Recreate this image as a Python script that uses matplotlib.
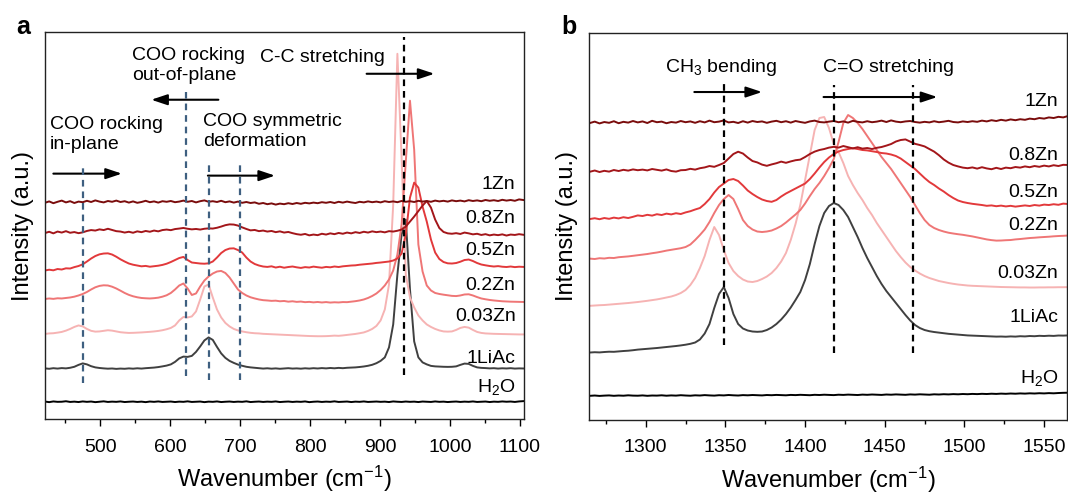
import matplotlib
matplotlib.use('Agg')
import matplotlib.pyplot as plt
from matplotlib.ticker import MultipleLocator

# arial-like text, mathtext in the same face for sub/superscripts
plt.rcParams['font.family'] = ['Liberation Sans', 'DejaVu Sans']
plt.rcParams['mathtext.fontset'] = 'custom'
plt.rcParams['mathtext.rm'] = 'Liberation Sans'
plt.rcParams['mathtext.it'] = 'Liberation Sans:italic'
plt.rcParams['mathtext.bf'] = 'Liberation Sans:bold'
plt.rcParams['mathtext.default'] = 'regular'

# ---------------- data, panel a (400-1100 cm-1) ----------------
sample_names = ['1Zn', '0.8Zn', '0.5Zn', '0.2Zn', '0.03Zn', '1LiAc', 'H$_2$O']

a_wn = [421, 427, 433, 439, 445, 451, 457, 463, 469, 475,
        481, 487, 493, 499, 505, 511, 517, 523, 529, 535,
        541, 547, 553, 559, 565, 571, 577, 583, 589, 595,
        601, 607, 613, 619, 625, 631, 637, 643, 649, 655,
        661, 667, 673, 679, 685, 691, 697, 703, 709, 715,
        721, 727, 733, 739, 745, 751, 757, 763, 769, 775,
        781, 787, 793, 799, 805, 811, 817, 823, 829, 835,
        841, 847, 853, 859, 865, 871, 877, 883, 889, 895,
        901, 907, 913, 919, 925, 931, 937, 943, 949, 955,
        961, 967, 973, 979, 985, 991, 997, 1003, 1009, 1015,
        1021, 1027, 1033, 1039, 1045, 1051, 1057, 1063, 1069, 1075,
        1081, 1087, 1093, 1099, 1105]

# stacked intensities (a.u., offsets included)
a_1zn = [216.8, 218.2, 216.4, 217.8, 219.0, 217.2, 218.4, 216.6, 218.0, 217.4,
         218.8, 217.6, 219.2, 218.0, 217.2, 218.6, 217.8, 219.0, 217.6, 218.4,
         217.0, 218.2, 216.8, 217.6, 218.8, 217.4, 218.2, 217.0, 218.4, 217.8,
         218.6, 217.4, 218.0, 219.0, 217.8, 218.6, 217.2, 218.4, 219.2, 217.8,
         218.4, 217.6, 218.8, 217.4, 218.2, 217.0, 218.0, 216.8, 217.6, 216.6,
         217.2, 215.8, 216.6, 215.4, 216.2, 215.0, 216.0, 215.4, 216.4, 215.6,
         216.6, 215.8, 216.8, 216.2, 217.0, 216.4, 217.4, 216.8, 217.6, 216.6,
         217.8, 217.0, 218.0, 217.2, 216.6, 217.8, 217.2, 218.2, 217.4, 218.0,
         217.2, 218.4, 217.6, 218.2, 217.4, 218.6, 217.8, 218.4, 217.6, 218.8,
         218.0, 218.6, 217.8, 219.0, 218.2, 218.8, 218.0, 219.2, 218.4, 219.0,
         218.2, 219.4, 218.6, 219.2, 218.4, 219.6, 218.8, 219.4, 218.6, 219.8,
         219.0, 219.6, 218.8, 220.2, 219.6]
a_08zn = [186.5, 187.8, 186.2, 188.0, 187.0, 188.4, 186.8, 187.5, 186.4, 187.2,
          188.6, 189.5, 189.0, 190.2, 189.5, 190.8, 189.6, 188.4, 188.0, 187.0,
          187.8, 186.8, 188.2, 187.4, 188.6, 187.8, 189.0, 188.2, 189.5, 190.0,
          189.4, 190.5, 191.0, 191.6, 190.8, 190.2, 190.6, 190.0, 190.8, 191.2,
          191.0, 191.8, 193.0, 194.4, 195.2, 195.0, 194.0, 192.2, 190.6, 189.2,
          189.6, 188.4, 189.0, 188.0, 188.6, 187.4, 188.2, 187.0, 187.6, 186.4,
          185.4, 184.8, 185.6, 184.2, 185.0, 184.4, 185.8, 185.0, 186.2, 185.4,
          186.6, 185.8, 187.0, 186.2, 187.4, 186.6, 187.8, 187.0, 188.2, 187.4,
          188.0, 187.2, 188.4, 188.0, 188.8, 190.0, 193.0, 198.0, 203.0, 208.5,
          214.0, 218.6, 212.0, 200.0, 191.5, 187.6, 186.2, 185.8, 186.4, 185.6,
          187.0, 186.2, 185.2, 185.8, 184.6, 185.4, 184.2, 185.0, 184.4, 185.2,
          184.0, 185.0, 184.6, 185.4, 184.8]
a_05zn = [149.0, 149.8, 149.2, 150.5, 150.0, 151.2, 151.0, 152.4, 153.5, 155.2,
          158.0, 161.0, 163.5, 165.2, 166.0, 166.2, 165.0, 162.8, 160.2, 158.0,
          156.0, 154.8, 154.0, 153.2, 153.6, 152.8, 153.3, 153.8, 154.6, 155.8,
          157.5, 159.5, 161.5, 162.6, 159.5, 157.0, 156.5, 156.0, 155.8, 156.2,
          158.0, 162.0, 166.5, 169.5, 171.0, 171.2, 169.5, 167.0, 162.0, 158.0,
          155.5, 154.0, 153.0, 152.6, 153.2, 152.0, 152.8, 151.8, 152.5, 153.0,
          152.2, 151.6, 152.4, 152.0, 152.9, 152.3, 151.8, 152.6, 152.2, 153.0,
          152.5, 153.2, 153.6, 154.0, 154.2, 154.8, 155.2, 155.6, 156.0, 156.6,
          157.0, 157.5, 158.0, 159.0, 161.0, 166.0, 185.0, 222.0, 237.0, 232.0,
          213.0, 198.0, 180.0, 167.0, 160.5, 157.5, 156.2, 156.0, 156.5, 157.8,
          159.5, 160.0, 158.5, 156.5, 155.0, 154.2, 153.5, 153.0, 153.4, 152.8,
          152.5, 153.0, 152.4, 152.8, 152.6]
a_02zn = [120.5, 121.0, 120.6, 121.2, 121.0, 121.5, 122.0, 122.8, 124.0, 125.5,
          127.5, 130.0, 132.2, 133.6, 134.2, 134.0, 132.8, 131.0, 128.8, 126.5,
          124.6, 123.2, 122.2, 121.5, 121.2, 121.0, 121.3, 121.8, 122.8, 124.2,
          126.5, 130.0, 134.0, 136.0, 131.0, 124.5, 126.0, 133.0, 139.0, 143.0,
          146.0, 148.0, 148.6, 146.5, 142.0, 136.0, 130.0, 126.5, 124.0, 122.2,
          121.0, 120.0, 119.3, 119.0, 118.6, 118.8, 118.2, 118.5, 117.8, 118.2,
          117.6, 117.9, 117.3, 117.6, 117.1, 117.5, 117.0, 117.4, 116.9, 117.2,
          117.0, 117.4, 117.3, 117.8, 118.3, 119.0, 120.0, 121.5, 123.5, 126.0,
          129.5, 134.0, 140.0, 149.0, 165.0, 195.0, 258.0, 319.0, 270.0, 175.0,
          148.0, 134.0, 129.0, 126.5, 125.5, 124.8, 124.2, 123.6, 123.4, 124.0,
          125.0, 125.2, 124.0, 122.4, 121.0, 120.2, 119.5, 119.0, 118.6, 118.2,
          118.0, 117.8, 117.7, 117.6, 117.5]
a_003zn = [85.5, 86.0, 86.2, 86.8, 87.5, 88.8, 90.5, 92.5, 94.0, 93.0,
           90.5, 88.6, 87.8, 88.0, 88.6, 89.2, 88.8, 88.0, 87.2, 86.8,
           86.5, 86.6, 86.8, 87.0, 87.3, 87.6, 88.0, 88.5, 89.2, 90.2,
           91.5, 94.0, 99.0, 102.5, 102.0, 103.0, 108.0, 120.0, 133.0, 135.0,
           122.0, 110.0, 102.0, 96.5, 93.0, 90.5, 89.0, 88.0, 87.2, 86.6,
           86.2, 86.0, 85.6, 85.4, 85.2, 85.0, 84.8, 84.6, 84.4, 84.2,
           84.0, 83.8, 83.6, 83.4, 83.3, 83.2, 83.2, 83.3, 83.5, 83.8,
           83.6, 84.0, 84.5, 85.0, 85.5, 86.2, 87.0, 88.5, 90.5, 93.5,
           99.0, 110.0, 135.0, 215.0, 366.0, 262.0, 145.0, 122.0, 112.0, 104.0,
           99.0, 95.0, 92.5, 90.5, 89.0, 88.0, 87.8, 88.0, 89.5, 91.5,
           92.5, 91.8, 89.5, 87.5, 86.5, 86.0, 85.8, 85.6, 85.5, 85.4,
           85.3, 85.2, 85.1, 85.0, 85.0]
a_liac = [51.0, 50.6, 51.2, 50.8, 51.3, 51.0, 51.6, 52.6, 54.5, 56.0,
          55.0, 53.2, 52.0, 51.4, 51.0, 50.7, 50.9, 50.5, 50.8, 50.6,
          51.0, 50.7, 51.1, 50.8, 51.2, 51.5, 51.8, 52.3, 53.0, 53.8,
          55.0, 57.5, 61.0, 62.8, 62.5, 63.5, 67.5, 73.0, 79.0, 82.0,
          79.5, 72.5, 66.0, 61.5, 58.5, 56.5, 54.8, 53.6, 52.6, 52.0,
          51.6, 51.2, 50.8, 51.1, 50.7, 51.0, 50.6, 50.9, 51.2, 50.8,
          51.0, 50.7, 51.1, 50.8, 51.2, 50.9, 51.3, 51.0, 51.4, 51.1,
          51.5, 51.2, 51.6, 51.8, 52.0, 52.4, 52.9, 53.6, 54.6, 56.2,
          58.5, 62.0, 72.0, 95.0, 145.0, 185.0, 200.0, 130.0, 78.0, 62.0,
          57.0, 55.0, 53.5, 53.0, 52.8, 52.6, 52.5, 52.6, 53.0, 54.5,
          55.8, 55.5, 53.5, 52.0, 51.5, 51.3, 51.0, 51.2, 50.8, 51.1,
          50.9, 51.2, 50.8, 51.0, 50.9]
a_h2o = [17.8, 17.2, 17.9, 17.5, 17.6, 18.1, 17.4, 17.7, 17.3, 17.9,
         17.5, 17.8, 17.2, 17.6, 18.0, 17.4, 17.7, 17.5, 17.9, 17.3,
         17.6, 17.8, 17.4, 17.7, 17.2, 17.8, 17.5, 17.9, 17.4, 17.6,
         17.8, 17.3, 17.7, 17.5, 18.0, 17.4, 17.6, 17.8, 17.2, 17.7,
         17.5, 17.9, 17.3, 17.6, 17.8, 17.4, 17.7, 17.5, 18.0, 17.3,
         17.6, 17.8, 17.4, 17.7, 17.5, 17.9, 17.3, 17.6, 17.8, 17.4,
         17.7, 17.5, 17.9, 17.2, 17.6, 17.8, 17.4, 17.7, 17.5, 18.0,
         17.4, 17.6, 17.8, 17.3, 17.7, 17.5, 17.9, 17.4, 17.6, 17.8,
         17.5, 17.7, 17.3, 17.9, 17.6, 17.4, 17.8, 17.5, 17.7, 17.3,
         17.8, 17.6, 17.4, 17.9, 17.5, 17.7, 17.3, 17.6, 17.8, 17.4,
         17.7, 17.5, 17.9, 17.4, 17.6, 17.8, 17.3, 17.7, 17.5, 17.9,
         17.6, 17.8, 17.4, 17.9, 18.2]

# ---------------- data, panel b (1265-1565 cm-1) ----------------
b_wn = [1265, 1268, 1271, 1274, 1277, 1280, 1283, 1286, 1289, 1292,
        1295, 1298, 1301, 1304, 1307, 1310, 1313, 1316, 1319, 1322,
        1325, 1328, 1331, 1334, 1337, 1340, 1343, 1346, 1349, 1352,
        1355, 1358, 1361, 1364, 1367, 1370, 1373, 1376, 1379, 1382,
        1385, 1388, 1391, 1394, 1397, 1400, 1403, 1406, 1409, 1412,
        1415, 1418, 1421, 1424, 1427, 1430, 1433, 1436, 1439, 1442,
        1445, 1448, 1451, 1454, 1457, 1460, 1463, 1466, 1469, 1472,
        1475, 1478, 1481, 1484, 1487, 1490, 1493, 1496, 1499, 1502,
        1505, 1508, 1511, 1514, 1517, 1520, 1523, 1526, 1529, 1532,
        1535, 1538, 1541, 1544, 1547, 1550, 1553, 1556, 1559, 1562,
        1565]

b_1zn = [297.0, 298.4, 296.6, 298.0, 297.2, 298.8, 296.8, 298.2, 297.4, 299.0,
         297.6, 298.6, 297.0, 299.2, 297.8, 298.4, 296.8, 298.0, 297.4, 299.0,
         297.8, 298.6, 297.2, 298.8, 297.6, 299.4, 297.8, 298.4, 299.6, 297.6,
         298.2, 297.0, 298.8, 297.4, 299.0, 298.0, 298.6, 297.2, 298.4, 299.2,
         297.8, 298.8, 297.4, 299.0, 298.0, 297.2, 298.6, 299.4, 298.0, 297.6,
         298.4, 299.0, 297.8, 298.6, 297.4, 299.2, 298.2, 297.6, 298.8, 297.8,
         298.4, 299.4, 298.0, 299.6, 298.4, 297.8, 298.6, 299.0, 298.0, 297.4,
         298.2, 297.6, 298.8, 297.8, 298.4, 299.2, 298.0, 297.6, 298.6, 298.0,
         298.8, 298.2, 299.4, 298.6, 299.8, 299.0, 300.2, 299.4, 300.6, 299.8,
         300.8, 300.2, 301.4, 300.8, 302.0, 301.4, 302.6, 302.0, 303.2, 302.6,
         304.0]
b_08zn = [248.3, 249.5, 248.0, 249.2, 248.4, 250.0, 249.0, 250.2, 249.4, 250.6,
          249.8, 250.4, 249.6, 251.0, 250.2, 249.4, 250.6, 249.0, 248.4, 249.8,
          250.0, 251.2, 250.4, 251.8, 252.6, 254.0, 253.2, 255.0, 257.0, 261.5,
          266.0, 268.3, 266.5, 262.5, 259.0, 257.6, 255.4, 254.2, 255.6, 256.8,
          258.4, 257.2, 258.6, 259.8, 260.4, 263.0, 266.0, 268.4, 270.0, 271.0,
          272.4, 273.2, 272.4, 274.0, 272.8, 271.6, 272.8, 271.4, 272.0, 271.0,
          272.2, 273.0, 274.4, 276.0, 278.5, 280.0, 280.6, 278.4, 276.2, 275.0,
          273.6, 271.0, 268.4, 264.8, 260.6, 257.4, 255.0, 253.6, 252.4, 251.8,
          252.6, 251.4, 252.8, 251.6, 250.8, 252.2, 251.0, 252.4, 251.8, 253.0,
          252.4, 253.6, 252.8, 254.0, 253.2, 254.4, 253.6, 254.8, 254.0, 255.2,
          255.0]
b_05zn = [201.0, 201.8, 200.8, 202.0, 201.2, 202.4, 201.6, 202.8, 202.0, 203.2,
          204.6, 204.0, 205.2, 204.4, 205.8, 205.0, 206.4, 205.6, 206.8, 206.0,
          207.6, 208.8, 210.5, 212.0, 216.0, 221.0, 227.5, 233.0, 236.5, 240.0,
          241.0, 239.0, 234.5, 229.5, 226.0, 223.0, 220.5, 219.0, 218.2, 220.0,
          223.5, 226.5, 229.0, 231.5, 234.0, 236.5, 241.0, 246.5, 252.5, 258.0,
          262.5, 266.0, 268.5, 270.0, 271.0, 271.8, 271.0, 270.0, 269.6, 268.8,
          268.0, 267.0, 266.5, 265.5, 264.0, 261.5, 258.0, 254.5, 251.0, 246.5,
          242.0, 238.0, 235.0, 231.5, 228.5, 225.0, 222.0, 219.5, 218.0, 217.0,
          216.2, 215.6, 215.0, 214.2, 214.6, 213.8, 214.4, 213.6, 214.2, 213.4,
          214.0, 214.6, 214.0, 215.0, 214.4, 215.4, 215.0, 215.8, 215.2, 216.4,
          216.0]
b_02zn = [161.4, 161.0, 161.8, 161.5, 162.2, 162.0, 162.8, 163.2, 163.6, 164.2,
          164.8, 165.4, 166.0, 166.8, 167.5, 168.4, 169.4, 170.2, 171.0, 171.8,
          173.0, 175.5, 180.0, 185.0, 190.5, 198.0, 207.0, 215.0, 221.0, 225.0,
          221.0, 211.0, 200.0, 194.0, 190.5, 188.5, 188.0, 188.5, 189.5, 191.5,
          194.0, 197.5, 201.5, 205.5, 210.0, 216.5, 224.0, 231.0, 237.0, 244.0,
          252.0, 261.0, 278.0, 297.0, 305.0, 302.0, 297.0, 291.0, 284.0, 277.0,
          270.0, 263.0, 257.0, 251.0, 244.0, 237.0, 230.0, 223.0, 215.0, 207.0,
          200.0, 195.0, 192.0, 190.0, 188.5, 187.3, 186.5, 185.8, 185.2, 184.4,
          183.6, 182.6, 181.6, 180.6, 179.9, 179.4, 179.5, 179.8, 180.0, 180.6,
          181.0, 181.5, 182.0, 182.3, 182.7, 183.0, 183.3, 183.7, 184.0, 184.2,
          184.5]
b_003zn = [114.2, 114.5, 114.8, 115.0, 115.4, 115.8, 116.2, 116.6, 117.0, 117.5,
           118.0, 118.6, 119.2, 119.9, 120.6, 121.5, 122.5, 123.5, 125.0, 127.0,
           130.0, 135.0, 142.0, 152.0, 164.0, 180.0, 193.0, 185.0, 170.0, 157.0,
           149.0, 144.0, 140.5, 138.5, 138.0, 139.0, 141.0, 143.5, 147.0, 152.0,
           158.5, 167.0, 180.0, 196.0, 215.0, 240.0, 265.0, 290.0, 302.0, 303.0,
           292.0, 276.0, 268.0, 257.0, 244.0, 235.0, 227.0, 220.0, 212.0, 205.0,
           197.0, 190.0, 183.0, 176.0, 169.0, 163.0, 157.5, 153.0, 149.5, 146.5,
           144.0, 142.0, 140.5, 139.0, 138.0, 137.0, 136.2, 135.5, 135.0, 134.5,
           134.2, 134.0, 133.8, 133.6, 133.4, 133.2, 133.0, 132.9, 132.8, 132.7,
           132.6, 132.6, 132.5, 132.5, 132.6, 132.6, 132.7, 132.7, 132.8, 132.8,
           132.9]
b_liac = [67.5, 67.8, 67.6, 68.0, 68.3, 68.2, 68.6, 69.0, 69.3, 69.8,
          70.4, 70.8, 71.2, 71.6, 72.0, 72.5, 73.0, 73.5, 74.0, 74.6,
          75.3, 76.2, 77.5, 80.5, 86.5, 96.0, 112.0, 126.0, 133.0, 122.0,
          106.0, 96.0, 91.5, 89.5, 88.5, 88.2, 88.5, 90.0, 92.5, 96.0,
          100.5, 106.0, 112.5, 120.0, 128.0, 140.0, 156.0, 176.0, 194.0, 207.0,
          214.0, 217.0, 215.0, 210.0, 203.0, 193.0, 183.0, 172.0, 162.0, 153.0,
          144.0, 136.0, 129.0, 123.0, 117.0, 111.0, 105.0, 99.5, 95.0, 92.0,
          90.0, 88.8, 88.0, 87.4, 86.8, 86.2, 85.8, 85.4, 85.0, 84.6,
          84.4, 84.2, 84.0, 83.8, 83.6, 83.4, 83.5, 83.3, 83.6, 83.4,
          83.8, 83.6, 84.0, 83.8, 84.2, 84.0, 84.3, 84.1, 84.5, 84.4,
          84.6]
b_h2o = [24.2, 24.5, 24.1, 24.4, 24.6, 24.2, 24.5, 24.3, 24.7, 24.4,
         24.3, 24.6, 24.2, 24.5, 24.4, 24.7, 24.3, 24.6, 24.4, 24.8,
         24.5, 24.3, 24.7, 24.5, 24.9, 24.6, 24.4, 24.8, 24.6, 25.0,
         24.7, 24.5, 24.9, 24.7, 25.0, 24.8, 24.6, 25.0, 24.8, 25.1,
         24.9, 24.7, 25.1, 24.9, 25.2, 25.0, 24.8, 25.2, 25.0, 25.3,
         25.1, 24.9, 25.3, 25.1, 25.4, 25.2, 25.0, 25.4, 25.2, 25.5,
         25.3, 25.1, 25.5, 25.3, 25.6, 25.4, 25.2, 25.6, 25.4, 25.7,
         25.5, 25.3, 25.7, 25.5, 25.8, 25.6, 25.9, 25.7, 26.0, 25.8,
         26.1, 25.9, 26.2, 26.0, 26.3, 26.1, 26.4, 26.2, 26.5, 26.3,
         26.6, 26.4, 26.7, 26.5, 26.8, 26.6, 26.9, 26.7, 27.0, 27.2,
         27.3]

# band positions marked by dashed guides (cm-1)
a_coo_bands = [475, 623, 655, 700]
a_cc_band = [935]
b_bands = [1349, 1418, 1468]

# ---------------- style / layout ----------------
trace_colors = ['#7a0c0c', '#a3161a', '#e2393b', '#ef7676', '#f6b3b3', '#404040', '#000000']
guide_blue = '#3e5f80'
TXT = 14


def draw_panel(ax, wn, traces, xlim, major, minor):
    # lower traces first so the zinc spectra sit on top
    n = len(traces)
    for i, (y, c) in enumerate(zip(traces, trace_colors)):
        ax.plot(wn, y, color=c, lw=1.4, zorder=2 + (n - i) * 0.01)
    ax.set_xlim(*xlim)
    ax.set_ylim(0, 387.5)
    ax.xaxis.set_major_locator(MultipleLocator(major))
    ax.xaxis.set_minor_locator(MultipleLocator(minor))
    ax.tick_params(axis='x', which='major', direction='out', length=5, width=1,
                   labelsize=TXT, pad=9, top=False)
    ax.tick_params(axis='x', which='minor', direction='out', length=3, width=1, top=False)
    ax.tick_params(axis='y', left=False, labelleft=False)
    for s in ax.spines.values():
        s.set_linewidth(1.0)
        s.set_color('#222222')
    ax.set_xlabel('Wavenumber (cm$^{-1}$)', fontsize=17, labelpad=6)
    ax.set_ylabel('Intensity (a.u.)', fontsize=17, labelpad=8)


def arrow(ax, x0, x1, y):
    ax.annotate('', xy=(x1, y), xytext=(x0, y),
                arrowprops=dict(arrowstyle='-|>,head_length=0.6,head_width=0.2',
                                color='black', lw=1.5, mutation_scale=16,
                                shrinkA=0, shrinkB=0))


fig = plt.figure(figsize=(10.68, 4.98), dpi=100)
ax_a = fig.add_axes([0.0421, 0.1580, 0.4485, 0.7771])
ax_b = fig.add_axes([0.5518, 0.1566, 0.4476, 0.7781])

# panel a
draw_panel(ax_a, a_wn, [a_1zn, a_08zn, a_05zn, a_02zn, a_003zn, a_liac, a_h2o],
           (421, 1106), 100, 50)
a_guide_spans = [(36.6, 254), (43.3, 328), (39.3, 257.5), (39.3, 257.5)]
for x, (y0, y1) in zip(a_coo_bands, a_guide_spans):
    ax_a.plot([x, x], [y0, y1], color=guide_blue, lw=1.6, ls=(0, (3, 2.2)), zorder=4)
ax_a.plot([a_cc_band[0]] * 2, [44.3, 382.6], color='black', lw=1.6, ls=(0, (3, 2.2)), zorder=4)

a_label_y = [235.3, 201, 169.3, 134.3, 103.3, 61, 32.6]
for name, y in zip(sample_names, a_label_y):
    ax_a.text(1094, y, name, ha='right', va='center', fontsize=TXT)

ax_a.text(428, 285, 'COO rocking\nin-plane', ha='left', va='center', fontsize=TXT, linespacing=1.25)
ax_a.text(545, 354, 'COO rocking\nout-of-plane', ha='left', va='center', fontsize=TXT, linespacing=1.25)
ax_a.text(647, 288, 'COO symmetric\ndeformation', ha='left', va='center', fontsize=TXT, linespacing=1.25)
ax_a.text(728, 362, 'C-C stretching', ha='left', va='center', fontsize=TXT)
arrow(ax_a, 433, 531, 246)
arrow(ax_a, 669, 573, 320)
arrow(ax_a, 654, 750, 244)
arrow(ax_a, 881, 978, 346)

# panel b
draw_panel(ax_b, b_wn, [b_1zn, b_08zn, b_05zn, b_02zn, b_003zn, b_liac, b_h2o],
           (1264.6, 1564.6), 50, 25)
b_guide_spans = [(75.5, 336.7), (67, 335), (67, 335)]
for x, (y0, y1) in zip(b_bands, b_guide_spans):
    ax_b.plot([x, x], [y0, y1], color='black', lw=1.6, ls=(0, (3, 2.2)), zorder=4)

b_label_y = [319, 265, 228, 194.4, 146.2, 102.5, 41.9]
for name, y in zip(sample_names, b_label_y):
    ax_b.text(1559, y, name, ha='right', va='center', fontsize=TXT)

ax_b.text(1312, 353, 'CH$_3$ bending', ha='left', va='center', fontsize=TXT)
ax_b.text(1411, 353, 'C=O stretching', ha='left', va='center', fontsize=TXT)
arrow(ax_b, 1330.5, 1373, 328)
arrow(ax_b, 1411.6, 1483, 323)

# panel letters
fig.text(16 / 1068, 1 - 33.5 / 498, 'a', fontsize=18, fontweight='bold', va='baseline')
fig.text(561 / 1068, 1 - 33.5 / 498, 'b', fontsize=18, fontweight='bold', va='baseline')

fig.savefig('out.png', dpi=100)
plt.close(fig)
